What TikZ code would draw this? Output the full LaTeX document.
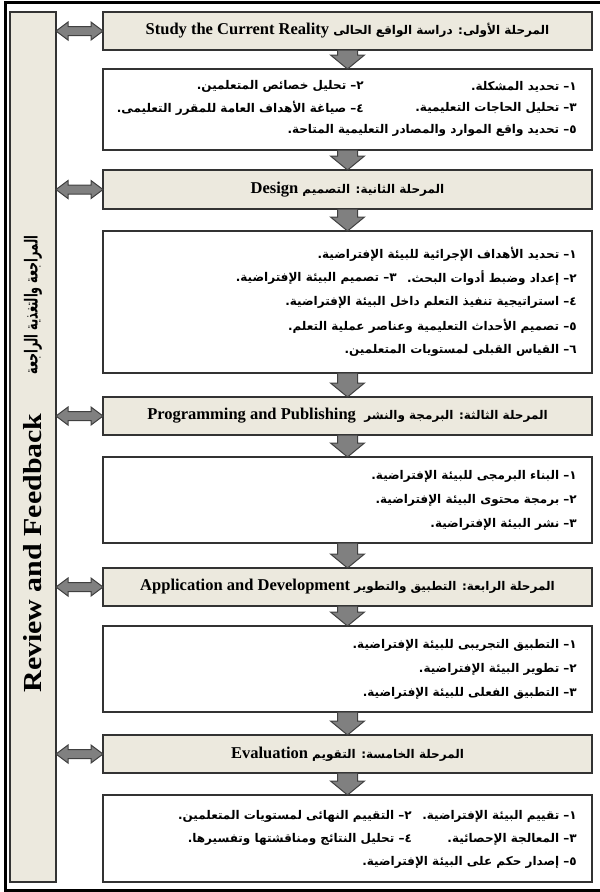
\documentclass[tikz,border=0pt]{standalone}
\usepackage{fontspec}
\usetikzlibrary{calc}
\TeXXeTstate=1
\newfontfamily\arabicfont[Script=Arabic]{DejaVu Sans}
\newfontfamily\enfont{Liberation Serif}
\definecolor{beige}{RGB}{236,233,222}
\definecolor{arrgray}{RGB}{128,128,128}
\newcommand{\blockdown}[2]{%
  \draw[barrow] let \p1=(#1.south), \p2=(#2.north) in
   (\x1-10pt,\y1) -- (\x1+10pt,\y1) -- (\x1+10pt,\y2+14pt) -- (\x1+17pt,\y2+14pt)
   -- (\x1,\y2) -- (\x1-17pt,\y2+14pt) -- (\x1-10pt,\y2+14pt) -- cycle;}
\newcommand{\blockboth}[2]{%
  \draw[barrow] let \p1=(#2.west), \p2=(#1.east) in
   (\x2,\y1) -- (\x2+12pt,\y1+9pt) -- (\x2+12pt,\y1+4.5pt) -- (\x1-12pt,\y1+4.5pt)
   -- (\x1-12pt,\y1+9pt) -- (\x1,\y1) -- (\x1-12pt,\y1-9pt) -- (\x1-12pt,\y1-4.5pt)
   -- (\x2+12pt,\y1-4.5pt) -- (\x2+12pt,\y1-9pt) -- cycle;}
\newcommand{\ar}[1]{\beginR #1\endR}
\begin{document}
\begin{tikzpicture}[x=1pt,y=-1pt,
  hdr/.style={draw=black!80, line width=1.2pt, fill=beige, minimum width=489pt,
    anchor=north west, inner sep=0pt, outer sep=0pt,
    font=\arabicfont\bfseries\fontsize{12}{14}\selectfont},
  cbox/.style={draw=black!80, line width=1.2pt, fill=white, minimum width=489pt,
    anchor=north west, inner sep=0pt, outer sep=0pt},
  side/.style={draw=black!80, line width=1.2pt, fill=beige, minimum width=46pt,
    anchor=north west, inner sep=0pt, outer sep=0pt},
  artxt/.style={anchor=east, inner sep=0pt,
    font=\arabicfont\bfseries\fontsize{12}{14}\selectfont},
  barrow/.style={fill=arrgray, draw=black!75, line width=1pt, line join=miter}]
\useasboundingbox (0,0) rectangle (600,892);
\clip (0,0) rectangle (600,892);
\draw[line width=3pt] (5,2.5) rectangle (604,890);
% sidebar
\node[side, minimum height=870pt] (sb) at (10,12) {};
\node[rotate=90, inner sep=0pt, font=\arabicfont\bfseries\fontsize{18}{20}\selectfont] (sbar) at (33,305) {\scalebox{0.62}[1]{\ar{المراجعة والتغذية الراجعة}}};
\node[rotate=90, inner sep=0pt, font=\enfont\bfseries\fontsize{26}{30}\selectfont] (sben) at (33,553) {\scalebox{1.15}[1]{Review and Feedback}};
% headers
\node[hdr, minimum height=38pt] (h1) at (103,12) {\ar{المرحلة الأولى: دراسة الواقع الحالى \beginL{\enfont\bfseries\fontsize{16.5}{18}\selectfont Study the Current  Reality}\endL}};
\node[hdr, minimum height=39pt] (h2) at (103,170) {\ar{المرحلة الثانية: التصميم \beginL{\enfont\bfseries\fontsize{16.5}{18}\selectfont Design}\endL}};
\node[hdr, minimum height=38pt] (h3) at (103,397) {\ar{المرحلة الثالثة: البرمجة والنشر \ \beginL{\enfont\bfseries\fontsize{16.5}{18}\selectfont Programming and Publishing}\endL}};
\node[hdr, minimum height=38pt] (h4) at (103,568) {\ar{المرحلة الرابعة: التطبيق والتطوير \beginL{\enfont\bfseries\fontsize{16.5}{18}\selectfont Application and Development}\endL}};
\node[hdr, minimum height=38pt] (h5) at (103,735) {\ar{المرحلة الخامسة: التقويم \beginL{\enfont\bfseries\fontsize{16.5}{18}\selectfont Evaluation}\endL}};
% content boxes
\node[cbox, minimum height=81pt] (c1) at (103,69) {};
\node[cbox, minimum height=142pt] (c2) at (103,231) {};
\node[cbox, minimum height=86pt] (c3) at (103,457) {};
\node[cbox, minimum height=86pt] (c4) at (103,626) {};
\node[cbox, minimum height=87pt] (c5) at (103,795) {};
% content 1
\node[artxt] (t11) at (577,86.5) {\ar{١– تحديد المشكلة.}};
\node[artxt] (t12) at (364,86.5) {\ar{٢– تحليل خصائص المتعلمين.}};
\node[artxt] (t13) at (577,108.5) {\ar{٣– تحليل الحاجات التعليمية.}};
\node[artxt] (t14) at (364,108.5) {\ar{٤– صياغة الأهداف العامة للمقرر التعليمى.}};
\node[artxt] (t15) at (577,130.5) {\ar{٥– تحديد واقع الموارد والمصادر التعليمية المتاحة.}};
% content 2
\node[artxt] (t21) at (577,254) {\ar{١– تحديد الأهداف الإجرائية للبيئة الإفتراضية.}};
\node[artxt] (t22) at (577,278) {\ar{٢– إعداد وضبط أدوات البحث.}};
\node[artxt] (t23) at ($(t22.west)+(-10pt,0)$) {\ar{٣– تصميم البيئة الإفتراضية.}};
\node[artxt] (t24) at (577,302) {\ar{٤– استراتيجية تنفيذ التعلم داخل البيئة الإفتراضية.}};
\node[artxt] (t25) at (577,326) {\ar{٥– تصميم الأحداث التعليمية وعناصر عملية التعلم.}};
\node[artxt] (t26) at (577,350) {\ar{٦– القياس القبلى لمستويات المتعلمين.}};
% content 3
\node[artxt] (t31) at (577,476) {\ar{١– البناء البرمجى للبيئة الإفتراضية.}};
\node[artxt] (t32) at (577,500) {\ar{٢– برمجة محتوى البيئة الإفتراضية.}};
\node[artxt] (t33) at (577,524) {\ar{٣– نشر البيئة الإفتراضية.}};
% content 4
\node[artxt] (t41) at (577,645) {\ar{١– التطبيق التجريبى للبيئة الإفتراضية.}};
\node[artxt] (t42) at (577,669) {\ar{٢– تطوير البيئة الإفتراضية.}};
\node[artxt] (t43) at (577,693) {\ar{٣– التطبيق الفعلى للبيئة الإفتراضية.}};
% content 5
\node[artxt] (t51) at (577,816) {\ar{١– تقييم البيئة الإفتراضية.}};
\node[artxt] (t52) at ($(t51.west)+(-10pt,0)$) {\ar{٢– التقييم النهائى لمستويات المتعلمين.}};
\node[artxt] (t53) at (577,839) {\ar{٣– المعالجة الإحصائية.}};
\node[artxt] (t54) at (t52.east |- t53.east) {\ar{٤– تحليل النتائج ومناقشتها وتفسيرها.}};
\node[artxt] (t55) at (577,862) {\ar{٥– إصدار حكم على البيئة الإفتراضية.}};
% arrows
\blockdown{h1}{c1}
\blockdown{c1}{h2}
\blockdown{h2}{c2}
\blockdown{c2}{h3}
\blockdown{h3}{c3}
\blockdown{c3}{h4}
\blockdown{h4}{c4}
\blockdown{c4}{h5}
\blockdown{h5}{c5}
\blockboth{sb}{h1}
\blockboth{sb}{h2}
\blockboth{sb}{h3}
\blockboth{sb}{h4}
\blockboth{sb}{h5}
\end{tikzpicture}
\end{document}
